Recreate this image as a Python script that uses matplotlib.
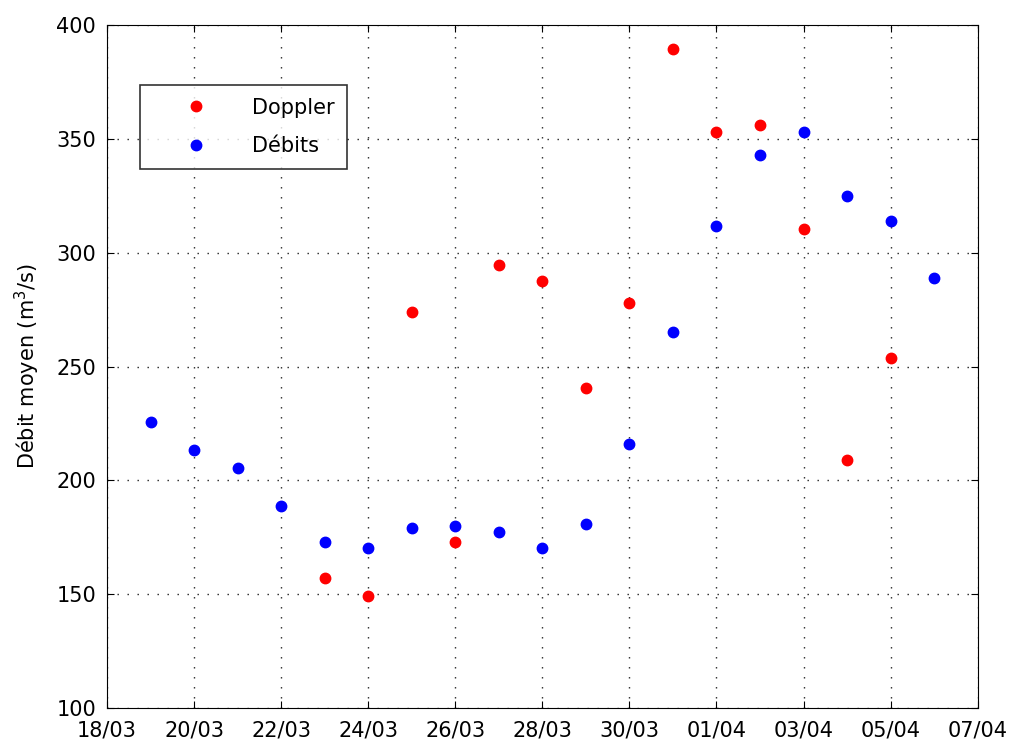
import matplotlib
matplotlib.use("Agg")
import matplotlib.pyplot as plt
import matplotlib.dates as mdates
import datetime as dt

plt.rcParams['font.family'] = ['DejaVu Sans']

# Data
debits_dates = ["2013-03-19", "2013-03-20", "2013-03-21", "2013-03-22", "2013-03-23",
                "2013-03-24", "2013-03-25", "2013-03-26", "2013-03-27", "2013-03-28",
                "2013-03-29", "2013-03-30", "2013-03-31", "2013-04-01", "2013-04-02",
                "2013-04-03", "2013-04-04", "2013-04-05", "2013-04-06"]
debits_values = [225.5, 213.4, 205.4, 188.8, 173.0, 170.3, 179.1, 180.0, 177.3, 170.3,
                 180.9, 216.0, 265.2, 311.5, 343.0, 352.8, 324.9, 314.0, 288.9]

doppler_dates = ["2013-03-23", "2013-03-24", "2013-03-25", "2013-03-26", "2013-03-27",
                 "2013-03-28", "2013-03-29", "2013-03-30", "2013-03-31", "2013-04-01",
                 "2013-04-02", "2013-04-03", "2013-04-04", "2013-04-05"]
doppler_values = [157.1, 149.2, 273.8, 173.0, 294.8, 287.6, 240.6, 278.0, 389.5, 352.8,
                  356.2, 310.6, 209.0, 253.8]

x_ticks = ["2013-03-18", "2013-03-20", "2013-03-22", "2013-03-24", "2013-03-26",
           "2013-03-28", "2013-03-30", "2013-04-01", "2013-04-03", "2013-04-05",
           "2013-04-07"]
y_ticks = [100, 150, 200, 250, 300, 350, 400]

def to_dt(lst):
    return [dt.datetime.strptime(s, "%Y-%m-%d") for s in lst]

FS = 15

fig = plt.figure(figsize=(10.10, 7.42), dpi=100)
ax = fig.add_axes([0.106, 0.0458, 0.862, 0.9205])

ax.plot(to_dt(doppler_dates), doppler_values, linestyle='none', marker='o',
        markersize=7.5, color='#ff0000', label='Doppler')
ax.plot(to_dt(debits_dates), debits_values, linestyle='none', marker='o',
        markersize=7.5, color='#0000ff', label='Débits')

xt = to_dt(x_ticks)
ax.set_xlim(xt[0], xt[-1])
ax.set_ylim(100, 400)
ax.set_xticks(xt)
ax.xaxis.set_major_formatter(mdates.DateFormatter('%d/%m'))
ax.set_yticks(y_ticks)

ax.grid(True, color='#222222', linestyle=(0, (1, 6.2)), linewidth=1.0)
ax.tick_params(direction='in', top=True, right=True, labelsize=FS, length=5, width=0.8)
ax.tick_params(axis='x', pad=9)
ax.tick_params(axis='y', pad=8)
for sp in ax.spines.values():
    sp.set_linewidth(0.8)

ax.set_ylabel('Débit moyen (m$^3$/s)', fontsize=FS, labelpad=10)

leg = ax.legend(loc='upper left', bbox_to_anchor=(0.038, 0.912), fontsize=FS,
                frameon=True, fancybox=False, edgecolor='black', borderpad=0.6,
                handletextpad=0.55, labelspacing=0.9, borderaxespad=0, handlelength=4.2)
leg.get_frame().set_linewidth(1.2)

fig.savefig('out.png', dpi=100)
